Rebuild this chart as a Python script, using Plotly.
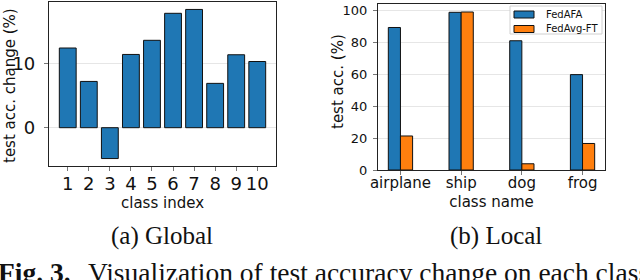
import plotly.graph_objects as go

# ---- data ----
class_index = [1, 2, 3, 4, 5, 6, 7, 8, 9, 10]
global_change = [12.4, 7.2, -4.8, 11.4, 13.6, 17.8, 18.4, 6.9, 11.35, 10.3]

class_names = ["airplane", "ship", "dog", "frog"]
fedafa = [89.2, 98.7, 80.9, 59.7]
fedavg_ft = [21.3, 98.9, 3.9, 16.6]
series_names = ["FedAFA", "FedAvg-FT"]

W, H = 640, 280
BLUE = "#1f77b4"
ORANGE = "#ff7f0e"
SANS = "DejaVu Sans"
SERIF = "Liberation Serif"

def px(x):
    return x / W

def py(y):
    return 1 - y / H

fig = go.Figure()

fig.add_trace(go.Bar(
    x=class_index, y=global_change, width=0.8,
    marker=dict(color=BLUE, line=dict(color="#111", width=1)),
    xaxis="x", yaxis="y", showlegend=False,
))

grp = list(range(len(class_names)))
fig.add_trace(go.Bar(
    x=[g - 0.1 for g in grp], y=fedafa, width=0.2, name=series_names[0],
    marker=dict(color=BLUE, line=dict(color="#111", width=1)),
    xaxis="x2", yaxis="y2", showlegend=False,
))
fig.add_trace(go.Bar(
    x=[g + 0.1 for g in grp], y=fedavg_ft, width=0.2, name=series_names[1],
    marker=dict(color=ORANGE, line=dict(color="#111", width=1)),
    xaxis="x2", yaxis="y2", showlegend=False,
))

axis_common = dict(
    showline=True, mirror=True, linecolor="#222", linewidth=1.2,
    ticks="outside", ticklen=4, tickcolor="#777", tickwidth=1,
    zeroline=False, automargin=False,
)

fig.update_layout(
    width=W, height=H,
    margin=dict(l=0, r=0, t=0, b=0, autoexpand=False),
    plot_bgcolor="white", paper_bgcolor="white",
    barmode="overlay",
    font=dict(family=SANS, color="#111"),
    xaxis=dict(
        domain=[px(49), px(276)], range=[0.11, 10.89],
        tickvals=class_index, ticktext=[str(v) for v in class_index],
        tickfont=dict(size=18), showgrid=False, ticklabelstandoff=-3,
        title=dict(text="class index", font=dict(size=15), standoff=2),
        anchor="y", **axis_common,
    ),
    yaxis=dict(
        domain=[py(166), py(2)], range=[-5.96, 19.56],
        tickvals=[0, 10], tickfont=dict(size=18), ticklabelstandoff=5,
        showgrid=True, gridcolor="#e6e6e6", gridwidth=1,
        anchor="x", **axis_common,
    ),
    xaxis2=dict(
        domain=[px(378), px(605)], range=[-0.37, 3.37],
        tickvals=grp, ticktext=class_names,
        tickfont=dict(size=15), showgrid=False, ticklabelstandoff=-5,
        title=dict(text="class name", font=dict(size=15), standoff=5),
        anchor="y2", **axis_common,
    ),
    yaxis2=dict(
        domain=[py(170), py(4)], range=[0, 103.9],
        tickvals=[0, 20, 40, 60, 80, 100], tickfont=dict(size=13),
        ticklabelstandoff=3,
        showgrid=True, gridcolor="#e6e6e6", gridwidth=1,
        anchor="x2", **axis_common,
    ),
)

# legend (drawn as a small key box)
shapes = [
    dict(type="rect", xref="paper", yref="paper",
         x0=px(510), x1=px(602), y0=py(34), y1=py(6),
         line=dict(color="#d0d0d0", width=1), fillcolor="white"),
    dict(type="rect", xref="paper", yref="paper",
         x0=px(514), x1=px(534), y0=py(18), y1=py(11),
         line=dict(color="#111", width=1), fillcolor=BLUE),
    dict(type="rect", xref="paper", yref="paper",
         x0=px(514), x1=px(534), y0=py(32.5), y1=py(25.5),
         line=dict(color="#111", width=1), fillcolor=ORANGE),
]
fig.update_layout(shapes=shapes)

annotations = [
    dict(text=series_names[0], x=px(544), y=py(14.5), xanchor="left",
         font=dict(size=10, family=SANS)),
    dict(text=series_names[1], x=px(544), y=py(29), xanchor="left",
         font=dict(size=10, family=SANS)),
    dict(text="test acc. change (%)", x=px(10), y=py(86), textangle=-90,
         font=dict(size=15, family=SANS)),
    dict(text="test acc. (%)", x=px(338), y=py(82), textangle=-90,
         font=dict(size=15, family=SANS)),
    dict(text="(a) Global", x=px(162), y=py(236),
         font=dict(size=25, family=SERIF)),
    dict(text="(b) Local", x=px(496), y=py(236),
         font=dict(size=25, family=SERIF)),
    dict(text="<b>Fig. 3.</b>", x=px(-4), y=py(255), xanchor="left", yanchor="top",
         font=dict(size=27.5, family=SERIF)),
    dict(text="Visualization of test accuracy change on each class",
         x=px(86), y=py(255), xanchor="left", yanchor="top",
         font=dict(size=27.5, family=SERIF)),
]
for a in annotations:
    a.setdefault("xanchor", "center")
    a.setdefault("yanchor", "middle")
    a.update(xref="paper", yref="paper", showarrow=False)
fig.update_layout(annotations=annotations)

fig.write_html("out.html", config={"displayModeBar": False},
               post_script="document.body.style.margin='0';")
